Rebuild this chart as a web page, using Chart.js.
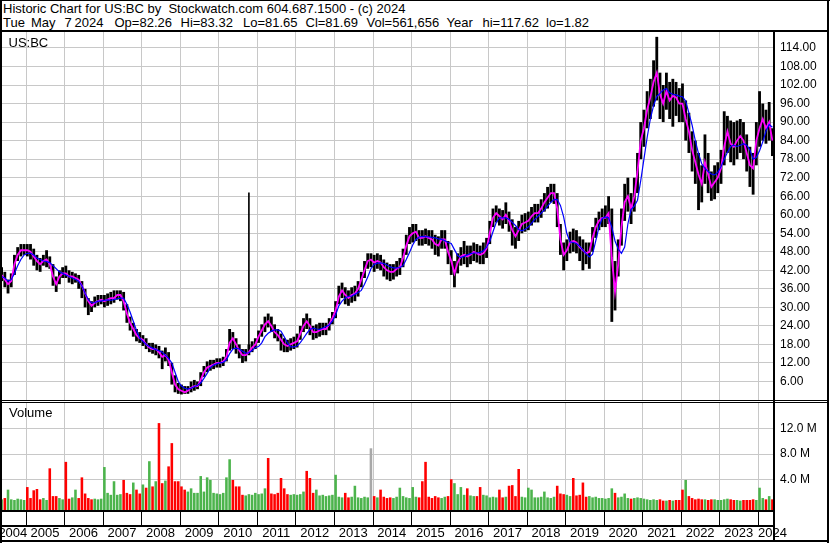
<!DOCTYPE html>
<html>
<head>
<meta charset="utf-8">
<script src="https://cdn.jsdelivr.net/npm/chart.js@4.4.1/dist/chart.umd.min.js"></script>
<style>
  html, body { margin: 0; padding: 0; background: #fff; }
  #wrap { position: relative; width: 830px; height: 543px; overflow: hidden;
          font-family: 'Liberation Sans', Arial, sans-serif; font-size: 13px; color: #000; }
  #wrap canvas { position: absolute; left: 0; }
  .ln { position: absolute; background: #000; z-index: 5; }
  .txt { position: absolute; white-space: pre; line-height: 15px; z-index: 4; }
</style>
</head>
<body>
<div id="wrap">
  <canvas id="priceChart" width="830" height="368" style="top:32px"></canvas>
  <canvas id="volChart" width="830" height="140" style="top:403px"></canvas>

  <div class="txt" style="left:3px;top:1px">Historic Chart for US:BC by  Stockwatch.com 604.687.1500 - (c) 2024</div>
  <div class="txt" style="left:3px;top:15px">Tue</div>
  <div class="txt" style="left:31px;top:15px">May</div>
  <div class="txt" style="left:64.5px;top:15px">7</div>
  <div class="txt" style="left:74.5px;top:15px">2024</div>
  <div class="txt" style="left:114.5px;top:15px">Op=82.26</div>
  <div class="txt" style="left:180.5px;top:15px">Hi=83.32</div>
  <div class="txt" style="left:243px;top:15px">Lo=81.65</div>
  <div class="txt" style="left:305.5px;top:15px">Cl=81.69</div>
  <div class="txt" style="left:366.5px;top:15px">Vol=561,656</div>
  <div class="txt" style="left:446.5px;top:15px">Year</div>
  <div class="txt" style="left:482.5px;top:15px">hi=117.62</div>
  <div class="txt" style="left:546px;top:15px">lo=1.82</div>
  <div class="txt" style="left:8.5px;top:35px">US:BC</div>
  <div class="txt" style="left:9px;top:405px">Volume</div>

  <div class="ln" style="left:0;top:0;width:830px;height:1px"></div>
  <div class="ln" style="left:0;top:0;width:2px;height:543px"></div>
  <div class="ln" style="left:827px;top:0;width:2px;height:543px"></div>
  <div class="ln" style="left:0;top:30px;width:829px;height:2px"></div>
  <div class="ln" style="left:773px;top:32px;width:2px;height:510px"></div>
  <div class="ln" style="left:0;top:400px;width:829px;height:1px"></div>
  <div class="ln" style="left:0;top:402px;width:829px;height:1px"></div>
  <div class="ln" style="left:0;top:510px;width:775px;height:2px"></div>
  <div class="ln" style="left:0;top:525px;width:775px;height:2px"></div>
  <div class="ln" style="left:0;top:540px;width:829px;height:2px"></div>
</div>

<script>
// Monthly bars, May 2004 .. May 2024
const START_YEAR = 2004;
const START_MONTH = 5;
const yearLabels = ['2004', '2005', '2006', '2007', '2008', '2009', '2010', '2011', '2012', '2013', '2014',
                    '2015', '2016', '2017', '2018', '2019', '2020', '2021', '2022', '2023', '2024'];

const priceHigh = [
    43, 41.5, 39, 41, 47, 49.5, 50.5, 50.5,
    50.5, 50.5, 49, 47, 46, 47, 48.5, 46.5, 44, 40, 42, 43,
    43.5, 42, 41.5, 41, 40.5, 38.5, 36, 33, 32, 33.5, 34, 34,
    34, 34.5, 35, 35.5, 35.5, 35.5, 35, 31, 27, 25, 23, 22,
    21, 20, 18.5, 18.5, 18, 17.5, 16, 17, 15.5, 12, 8, 5.5,
    5, 4.5, 4.5, 6, 6.5, 6, 9, 11, 12.5, 13, 13, 13.5,
    13.5, 14, 16.5, 23, 22, 20, 18, 16.5, 16.5, 18, 19, 20,
    22.5, 24.5, 27, 28, 27, 24.5, 23, 21.5, 20, 19.5, 20, 20.5,
    21.5, 24, 26.5, 28, 26.5, 24, 24.5, 25, 25, 25, 26.5, 28.5,
    32, 37, 38, 36.5, 35.5, 36.5, 37, 38.5, 41.5, 45, 47.5, 47.5,
    47, 47.5, 47, 45.5, 44.5, 44, 44, 45, 46, 49, 53.5, 56,
    57, 57, 55, 55, 55.5, 55, 55, 53.5, 53, 55, 55, 51.5,
    48.5, 45, 47.5, 49.5, 51.5, 50, 50, 51, 50.5, 50, 51, 52.5,
    58, 62, 63, 62, 61.5, 64, 61, 58.5, 56, 58, 60, 60.5,
    61, 62.5, 63.5, 63.5, 65, 67, 69, 70, 70, 67, 57, 51,
    52, 54.5, 55.5, 55, 53, 52, 51, 51, 56, 59, 61, 62,
    63, 66, 62, 45, 52, 62, 70, 72, 67, 72, 80, 90,
    94, 100, 104, 110, 117.6, 106, 102, 106, 103, 104, 103, 101,
    102.5, 97, 93, 87, 84, 80, 76, 86, 80, 74, 76, 77,
    81, 93.5, 92, 90.5, 90, 90.5, 91, 90, 86, 82, 80, 90,
    100, 96, 94, 96.5, 88
];

const priceLow = [
    38.5, 36.5, 34.5, 36.5, 40.5, 45, 46.5, 47,
    46.5, 45.5, 43.5, 42, 41.5, 43.5, 43, 42.5, 37, 35, 37.5, 39.5,
    39.5, 38, 37.5, 38, 36, 33, 30, 27.5, 28.5, 30, 30.5, 31,
    30, 30.5, 31, 31.5, 32.5, 32, 29, 25, 22.5, 20.5, 19, 18.5,
    17.5, 16.5, 15.5, 15, 14.5, 13.5, 10, 12.5, 11, 5, 2.5, 2,
    1.8, 2, 2, 2.5, 3, 3.5, 4.5, 7.5, 9, 9.5, 10, 10.5,
    10.5, 11, 12.5, 16, 16.5, 15, 13.5, 12, 12.5, 14.5, 15.5, 16.5,
    18.5, 20.5, 22, 23.5, 22, 20, 19, 16, 15.5, 15.5, 16, 16.5,
    17, 19.5, 22, 23, 21, 19.5, 20, 20.5, 21, 21, 22.5, 24.5,
    26.5, 31, 33, 31, 30.5, 31.5, 32, 33.5, 36.5, 39.5, 42.5, 43,
    41.5, 42.5, 42, 40, 39, 38.5, 39, 40, 40.5, 43, 47, 50.5,
    51, 51.5, 50, 50, 50.5, 50, 49, 47, 46.5, 49, 49, 44,
    40.5, 36.5, 41, 43.5, 44, 43, 44, 45, 44.5, 44, 44, 46,
    50.5, 56, 57.5, 56.5, 55.5, 57, 54.5, 50, 49, 51.5, 54, 54.5,
    55, 56.5, 57.5, 57.5, 59, 61, 62, 64, 63.5, 56, 47, 42,
    45, 47.5, 48, 47.5, 45, 42, 44, 42.5, 48, 52.5, 55, 56,
    56, 57, 25.3, 29, 40, 50, 58, 61, 57, 61, 67, 78,
    82, 88, 91, 95, 97, 91, 90, 94, 91, 88.5, 92, 90,
    90, 84, 80, 74, 70, 61.5, 64, 70, 67, 64.5, 65, 67,
    70, 76, 80, 77, 76, 78, 80, 78, 74, 69, 66.5, 76,
    82, 84, 83, 84, 79
];

// short moving average (magenta)
const maShort = [
    40.5, 39, 37.5, 38.5, 44, 47, 48.5, 48.5,
    48.5, 48, 46.5, 45, 44, 45, 45.5, 44, 40, 37.5, 40, 41,
    41, 40, 40, 39.5, 39, 37, 34.5, 32, 30.5, 31.5, 32, 32.5,
    32, 32.5, 33, 33, 34, 34, 32, 28, 25, 23, 21, 20,
    19.5, 18, 17, 16.5, 16.5, 15.5, 14, 14.5, 13, 9, 5, 3.5,
    3, 2.5, 3, 4, 4.5, 4.5, 6.5, 9, 10.5, 11, 11.5, 12,
    12, 12.5, 14, 18.5, 20, 18, 16, 14.5, 14.5, 15.5, 17, 18,
    20.5, 22.5, 24.5, 25.5, 24, 22, 21, 19.5, 18, 17.5, 18, 18.5,
    19, 21.5, 24, 25.5, 24, 22, 22, 22.5, 23, 23, 24.5, 26.5,
    29, 33.5, 35.5, 34, 33, 34, 34.5, 36, 39, 42, 45, 45.5,
    44.5, 45, 44.5, 43, 42, 41.5, 41.5, 42.5, 43, 46, 50, 53,
    54, 54.5, 52.5, 52.5, 53, 52.5, 52, 50.5, 50, 52, 52, 48,
    45, 41, 44.5, 46.5, 47, 46.5, 47, 48, 47.5, 47, 47.5, 49,
    54, 59, 60.5, 59.5, 58.5, 60, 58, 55, 53, 55, 57, 57.5,
    58, 59.5, 60.5, 60.5, 62, 64, 65.5, 67, 67, 62, 52, 47,
    48.5, 51, 51.5, 51, 49.5, 48.5, 47.5, 48, 52.5, 56, 58, 59,
    59, 60.5, 46, 35, 44, 56, 64, 66, 62, 66, 74, 84,
    88, 94, 98, 103, 106, 99, 96, 100, 97, 98.5, 98, 96,
    96, 91, 87, 81, 77, 73, 70, 77, 73, 69, 70.5, 72,
    75, 82, 87, 83, 82, 84, 85.5, 84, 80, 76, 75, 84,
    88, 91, 88, 90, 84
];

// long moving average (blue)
const maLong = [
    40, 39.5, 38.5, 39, 41, 43.5, 45.5, 47,
    47.5, 47.5, 47, 46, 45.5, 45, 44.8, 44.5, 43.5, 42.5, 41.5, 41,
    40.5, 40, 39.5, 39, 38.5, 37, 34.5, 32.5, 31.5, 31.5, 32, 32,
    32.3, 32.4, 32.3, 32.5, 32.8, 33, 33, 31, 28.5, 25.5, 22.5, 20,
    19, 18, 17.3, 16.8, 16.3, 16, 15.5, 14.5, 13.5, 12, 9, 6,
    4.5, 3.8, 3.5, 3.8, 4.3, 4.8, 5.5, 7, 8.6, 10.5, 11.3, 11.7,
    12, 12.2, 13, 15, 16.5, 16.8, 16.5, 15.8, 15.2, 15.3, 16, 17,
    17.3, 18.5, 20.5, 21.6, 22.3, 22.7, 22.7, 22.3, 20.5, 18.5, 17.2, 17.2,
    17.5, 18.6, 20, 21.6, 22.8, 23.3, 23, 22.9, 23.3, 23.8, 24.3, 25.5,
    27.5, 30.5, 32, 33, 33.6, 33.6, 34.2, 34.8, 35.5, 37.5, 39.8, 42.5,
    43.9, 44.3, 44.4, 44.2, 43.7, 43.1, 42.8, 42.8, 42.9, 43.5, 45.5, 47.8,
    50.2, 52, 52.8, 53, 52.9, 52.8, 52.7, 52.5, 52.2, 52, 51.6, 51,
    50.7, 48.7, 46.8, 46.1, 46.5, 47, 47.4, 47.6, 47.6, 47.8, 48.3, 49.5,
    51.3, 54.5, 57.5, 59, 59, 59, 58.5, 57.5, 56.5, 55.2, 54.8, 55.3,
    56, 57.2, 58.5, 59.5, 60.5, 61.5, 62.8, 64, 64.9, 65, 63, 59.3,
    53.9, 51.2, 51, 50.7, 49.8, 48.5, 47.4, 46.3, 47.2, 51.5, 56, 58.8,
    59.3, 59, 56, 51.5, 48.9, 47.5, 49.5, 57, 61.7, 62.8, 64.7, 71,
    78, 85, 91, 95.3, 98.3, 99.3, 100.4, 100.9, 99.5, 99, 98.8, 98.4,
    98.2, 96.8, 93, 89, 84, 79.8, 76.5, 75, 74, 73.2, 72.9, 73.7,
    75.5, 78, 80.2, 82.1, 82.5, 82.1, 82.5, 83, 82.5, 81, 78, 78.5,
    80.7, 83.6, 87, 89.2, 88.3
];

// one bad print in Oct 2010
const badTick = ['2010-10', 17.8, 67.1];

// volume, millions
const volume = [
    1.0, 1.2, 2.5, 1.0, 0.9, 1.1, 1.0, 0.9,
    2.9, 1.2, 2.4, 2.6, 1.0, 1.2, 0.9, 5.8, 1.5, 1.5, 1.2, 1.0,
    6.8, 1.1, 1.3, 2.5, 1.2, 4.4, 1.9, 1.2, 1.0, 1.1, 1.0, 1.1,
    6.0, 2.0, 1.7, 3.8, 1.7, 1.8, 4.0, 2.0, 1.8, 3.6, 2.5, 1.9,
    3.3, 2.8, 6.9, 3.0, 3.8, 12.8, 3.5, 3.9, 6.1, 9.7, 3.8, 3.8,
    3.0, 2.5, 2.2, 2.7, 2.0, 2.0, 4.6, 2.2, 4.4, 4.0, 2.0, 1.9,
    1.8, 2.0, 4.4, 7.2, 4.0, 3.0, 3.0, 1.7, 1.6, 1.8, 1.7, 2.0,
    1.8, 1.9, 2.7, 7.4, 1.9, 1.8, 2.0, 4.3, 2.7, 1.8, 1.7, 1.8,
    1.7, 1.8, 2.2, 5.4, 4.3, 2.0, 2.5, 1.6, 1.7, 1.5, 1.6, 1.7,
    4.8, 1.4, 1.3, 2.0, 1.3, 1.4, 3.1, 1.3, 1.2, 1.4, 1.3, 8.9,
    1.5, 1.3, 2.5, 1.4, 1.2, 1.3, 1.2, 1.4, 2.8, 1.5, 1.3, 1.2,
    2.9, 1.4, 1.3, 3.8, 6.8, 1.4, 1.2, 1.5, 1.3, 1.2, 1.4, 1.5,
    4.1, 3.5, 1.8, 2.9, 1.7, 2.7, 1.6, 1.5, 1.5, 2.9, 1.7, 1.6,
    1.3, 1.4, 1.3, 2.5, 1.3, 1.4, 3.1, 3.2, 1.5, 5.7, 1.4, 1.3,
    2.8, 2.5, 1.3, 1.3, 1.4, 2.2, 1.3, 1.2, 1.4, 3.1, 1.9, 1.8,
    1.7, 1.5, 4.3, 1.6, 1.7, 3.6, 1.4, 1.5, 1.3, 1.4, 1.2, 1.2,
    1.1, 1.2, 2.7, 2.0, 1.3, 1.4, 1.9, 1.2, 1.1, 1.2, 1.3, 1.2,
    1.1, 1.0, 0.9, 1.0, 0.9, 1.0, 0.8, 0.8, 0.9, 0.8, 0.9, 0.9,
    2.5, 4.0, 1.5, 1.2, 1.0, 1.1, 1.0, 1.0, 0.9, 1.0, 1.0, 0.9,
    0.9, 1.0, 1.1, 1.0, 0.9, 0.9, 0.8, 0.9, 0.9, 0.9, 1.0, 0.9,
    2.8, 1.2, 1.0, 1.5, 1.0
];

// bar colour where it differs from the price direction (g up, r down, x flat)
const volColorFix = {
    '2004-07': 'g', '2005-01': 'r', '2005-03': 'r', '2005-04': 'r', '2005-08': 'r',
    '2006-01': 'r', '2006-04': 'g', '2006-06': 'r', '2007-01': 'g', '2007-04': 'g', '2007-07': 'r',
    '2007-10': 'g', '2008-01': 'g', '2008-03': 'g', '2008-06': 'r', '2008-09': 'r', '2008-10': 'r',
    '2009-07': 'g', '2009-09': 'g', '2009-10': 'g', '2010-03': 'g', '2010-04': 'g', '2010-05': 'r',
    '2011-04': 'r', '2011-08': 'r', '2012-04': 'r', '2012-05': 'r', '2013-01': 'g', '2013-07': 'g',
    '2013-12': 'x', '2015-01': 'g', '2015-04': 'r', '2015-05': 'r', '2016-01': 'r', '2016-02': 'g',
    '2017-07': 'r', '2017-10': 'r', '2018-01': 'g', '2018-10': 'r', '2019-03': 'r', '2019-06': 'r',
    '2020-03': 'g', '2022-01': 'r', '2022-02': 'g', '2024-01': 'g'
};

const FONT = "'Liberation Sans', Arial, sans-serif";
const GRID = '#c8c8c8';
const COLORS = { g: '#4cb44c', r: '#ff0000', x: '#a8a8a8' };
const PRICE_MIN = 0, PRICE_MAX = 119.17;
const VOL_MIN = -0.65, VOL_MAX = 15.91;

const months = [];
for (let i = 0; i < priceHigh.length; i++) {
    const m = START_MONTH - 1 + i;
    const y = START_YEAR + Math.floor(m / 12);
    months.push(y + '-' + String(m % 12 + 1).padStart(2, '0'));
}

const volColors = months.map((m, i) => {
    let c = volColorFix[m];
    if (!c) c = (i > 0 && maShort[i] < maShort[i - 1]) ? 'r' : 'g';
    return COLORS[c];
});

// pixel of the first day of a year on a category x scale
function yearEdge(x, year) {
    const idx = (year - START_YEAR) * 12 - (START_MONTH - 1);
    const step = x.getPixelForValue(1) - x.getPixelForValue(0);
    return x.getPixelForValue(idx) - step / 2;
}

const yearGrid = {
    id: 'yearGrid',
    beforeDatasetsDraw(chart) {
        const { ctx, chartArea: a, scales: { x } } = chart;
        ctx.save();
        ctx.strokeStyle = GRID;
        ctx.lineWidth = 1;
        for (let y = START_YEAR + 1; y <= 2024; y++) {
            const px = Math.round(yearEdge(x, y)) + 0.5;
            ctx.beginPath();
            ctx.moveTo(px, a.top);
            ctx.lineTo(px, a.bottom);
            ctx.stroke();
        }
        ctx.restore();
    }
};

// year ticks and year names under the volume panel
const yearBand = {
    id: 'yearBand',
    afterDraw(chart) {
        const { ctx, chartArea: a, scales: { x } } = chart;
        ctx.save();
        ctx.fillStyle = '#000';
        for (let y = START_YEAR + 1; y <= 2024; y++) {
            const px = Math.round(yearEdge(x, y));
            ctx.fillRect(px, a.bottom + 2, 1, 14);
        }
        ctx.font = '13px ' + FONT;
        ctx.textBaseline = 'alphabetic';
        yearLabels.forEach((lbl, i) => {
            const yr = START_YEAR + i;
            const s = yearEdge(x, yr);
            const e = Math.min(yearEdge(x, yr + 1), a.right);
            const w = ctx.measureText(lbl).width;
            const c = (Math.max(s, a.left) + e) / 2;
            ctx.fillText(lbl, Math.max(s, c - w / 2), a.bottom + 26.5);
        });
        ctx.restore();
    }
};

function fixAxis(width) {
    return s => {
        s.width = width;
        s.paddingTop = 0; s.paddingBottom = 0; s.paddingLeft = 0; s.paddingRight = 0;
    };
}

const common = {
    responsive: false,
    animation: false,
    events: [],
    layout: { padding: 0 },
    plugins: { legend: { display: false }, tooltip: { enabled: false } }
};

new Chart(document.getElementById('priceChart'), {
    type: 'bar',
    data: {
        labels: months,
        datasets: [
            { type: 'line', data: maLong, borderColor: '#0000ff', borderWidth: 1.2, pointRadius: 0, order: 1 },
            { type: 'line', data: maShort, borderColor: '#ff00ff', borderWidth: 1.8, pointRadius: 0, order: 2 },
            { data: months.map((m, i) => [priceLow[i], priceHigh[i]]), backgroundColor: '#000',
              barPercentage: 0.88, categoryPercentage: 1, grouped: false, order: 3 },
            { data: months.map(m => m === badTick[0] ? [badTick[1], badTick[2]] : null), backgroundColor: '#000',
              barThickness: 1, grouped: false, order: 3 }
        ]
    },
    options: {
        ...common,
        scales: {
            x: { display: false, offset: true },
            y: {
                position: 'right', min: PRICE_MIN, max: PRICE_MAX,
                ticks: {
                    stepSize: 6, includeBounds: false, padding: 6, color: '#000',
                    font: { family: FONT, size: 12 },
                    callback: v => (v > 0 && v <= 114) ? v.toFixed(2) : ''
                },
                grid: { color: c => (c.tick && c.tick.value > 0 && c.tick.value <= 114) ? GRID : 'rgba(0,0,0,0)', drawTicks: false },
                border: { display: false },
                afterFit: fixAxis(56)
            }
        }
    },
    plugins: [yearGrid]
});

new Chart(document.getElementById('volChart'), {
    type: 'bar',
    data: {
        labels: months,
        datasets: [
            { data: volume, backgroundColor: volColors, barPercentage: 0.8, categoryPercentage: 1, base: VOL_MIN }
        ]
    },
    options: {
        ...common,
        scales: {
            x: {
                display: true, offset: true,
                ticks: { display: false }, grid: { display: false }, border: { display: false },
                afterFit: s => { s.height = 33; s.paddingLeft = 0; s.paddingRight = 0; s.paddingTop = 0; s.paddingBottom = 0; }
            },
            y: {
                position: 'right', min: VOL_MIN, max: VOL_MAX,
                ticks: {
                    stepSize: 4, includeBounds: false, padding: 6, color: '#000',
                    font: { family: FONT, size: 12 },
                    callback: v => (v > 0 && v < 16) ? v.toFixed(1) + ' M' : ''
                },
                grid: { color: c => (c.tick && c.tick.value > 0 && c.tick.value < 16) ? GRID : 'rgba(0,0,0,0)', drawTicks: false },
                border: { display: false },
                afterFit: fixAxis(56)
            }
        }
    },
    plugins: [yearGrid, yearBand]
});
</script>
</body>
</html>
